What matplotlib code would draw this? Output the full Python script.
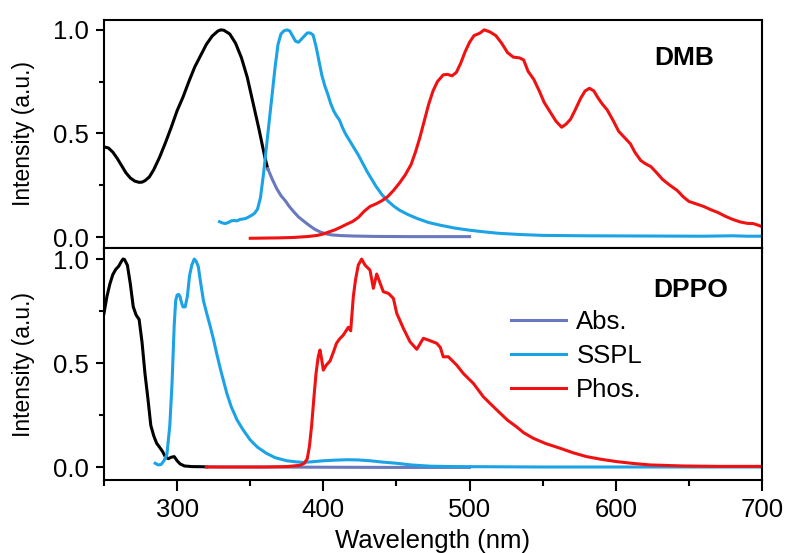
import numpy as np
import matplotlib
matplotlib.use('Agg')
import matplotlib.pyplot as plt
from matplotlib.ticker import MultipleLocator

plt.rcParams['font.family'] = ['Liberation Sans', 'DejaVu Sans']

# ---- DMB (top panel) ----
dmb_abs_wl = [250, 253, 256, 259, 262, 265, 268, 271, 274, 276, 278, 281, 284, 288,
              292, 296, 300, 304, 308, 312, 316, 320, 324, 328, 330, 332, 336, 340,
              344, 348, 352, 356, 360, 362, 365, 368, 371, 374, 377, 380, 383, 386,
              390, 394, 398, 402, 406, 412, 420, 435, 460, 500]
dmb_abs = [0.435, 0.43, 0.41, 0.38, 0.345, 0.31, 0.285, 0.27, 0.264, 0.265, 0.272,
           0.29, 0.325, 0.385, 0.455, 0.53, 0.61, 0.675, 0.75, 0.82, 0.875, 0.93,
           0.97, 0.995, 1.0, 0.998, 0.98, 0.935, 0.865, 0.77, 0.645, 0.52, 0.385,
           0.33, 0.28, 0.235, 0.2, 0.175, 0.145, 0.12, 0.097, 0.08, 0.058, 0.038,
           0.024, 0.015, 0.01, 0.007, 0.005, 0.003, 0.002, 0.002]
dmb_abs_split = 362  # black up to here, then legend colour

dmb_sspl_wl = [329, 331, 333, 335, 337, 339, 341, 343, 345, 347, 349, 351, 353, 355,
               357, 359, 361, 363, 365, 367, 369, 371, 373, 375, 377, 379, 381, 383,
               385, 387, 389, 391, 393, 395, 397, 399, 401, 403, 405, 407, 409, 411,
               413, 415, 418, 421, 424, 427, 430, 433, 436, 440, 444, 448, 452, 458,
               464, 472, 480, 490, 500, 510, 520, 535, 550, 580, 620, 660, 680, 690, 700]
dmb_sspl = [0.074, 0.068, 0.065, 0.07, 0.078, 0.08, 0.078, 0.085, 0.087, 0.09, 0.097,
            0.105, 0.115, 0.135, 0.19, 0.3, 0.43, 0.56, 0.69, 0.82, 0.93, 0.98, 0.995,
            1.0, 0.995, 0.97, 0.945, 0.94, 0.955, 0.97, 0.985, 0.985, 0.975, 0.92,
            0.85, 0.78, 0.73, 0.69, 0.645, 0.61, 0.585, 0.565, 0.53, 0.5, 0.465, 0.43,
            0.395, 0.355, 0.315, 0.28, 0.245, 0.205, 0.175, 0.15, 0.13, 0.108, 0.09,
            0.07, 0.057, 0.043, 0.033, 0.025, 0.018, 0.012, 0.008, 0.006, 0.005,
            0.004, 0.006, 0.004, 0.004]

dmb_phos_wl = [350, 360, 370, 380, 390, 396, 400, 404, 408, 412, 416, 420, 424, 428,
               432, 436, 440, 444, 448, 452, 456, 460, 463, 466, 469, 472, 475, 478,
               482, 485, 488, 491, 494, 497, 500, 503, 507, 510, 514, 518, 522, 526,
               530, 534, 537, 540, 544, 548, 551, 555, 559, 563, 566, 569, 572, 576,
               579, 582, 585, 588, 591, 594, 598, 602, 606, 610, 613, 617, 620, 624,
               628, 632, 637, 642, 646, 650, 655, 660, 665, 670, 675, 680, 685, 690,
               694, 697, 700]
dmb_phos = [-0.006, -0.005, -0.004, -0.002, 0.003, 0.008, 0.015, 0.025, 0.035, 0.048,
            0.062, 0.075, 0.095, 0.125, 0.148, 0.16, 0.175, 0.195, 0.225, 0.26, 0.3,
            0.35, 0.41, 0.48, 0.56, 0.64, 0.705, 0.75, 0.783, 0.785, 0.778, 0.795,
            0.84, 0.895, 0.94, 0.972, 0.984, 1.0, 0.99, 0.972, 0.935, 0.89, 0.868,
            0.865, 0.855, 0.8, 0.76, 0.7, 0.65, 0.605, 0.56, 0.53, 0.545, 0.568, 0.61,
            0.67, 0.705, 0.718, 0.705, 0.67, 0.64, 0.615, 0.565, 0.51, 0.48, 0.45,
            0.41, 0.37, 0.355, 0.34, 0.31, 0.278, 0.25, 0.225, 0.195, 0.172, 0.16,
            0.148, 0.132, 0.118, 0.1, 0.085, 0.073, 0.066, 0.065, 0.058, 0.05]

# ---- DPPO (bottom panel) ----
dppo_abs_wl = [250, 252, 254, 256, 258, 260, 262, 263, 264, 266, 268, 270, 272, 274,
               276, 278, 280, 282, 284, 286, 288, 290, 292, 294, 296, 298, 300, 302,
               305, 310, 320, 330, 360, 400, 450, 500]
dppo_abs = [0.74, 0.82, 0.88, 0.925, 0.95, 0.965, 0.99, 1.0, 0.998, 0.97, 0.88, 0.77,
            0.73, 0.71, 0.6, 0.45, 0.33, 0.2, 0.15, 0.114, 0.095, 0.075, 0.048, 0.04,
            0.047, 0.05, 0.03, 0.015, 0.005, 0.002, 0.001, 0.0, 0.0, -0.001, -0.002,
            -0.002]
dppo_abs_split = 320

dppo_sspl_wl = [285, 287, 289, 291, 293, 295, 296.5, 298, 299, 300, 301, 302, 303, 304,
                305.5, 307, 308.5, 310, 311.7, 313, 314.5, 316, 318, 320, 322.5, 325,
                327, 330, 334, 337, 341, 345, 350, 355, 361, 367, 375, 381, 386, 392,
                400, 408, 416, 424, 432, 440, 450, 460, 473, 490, 550, 620, 700]
dppo_sspl = [0.018, 0.01, 0.012, 0.03, 0.06, 0.2, 0.4, 0.68, 0.8, 0.827, 0.83, 0.82,
             0.79, 0.77, 0.77, 0.82, 0.92, 0.97, 1.0, 0.99, 0.963, 0.89, 0.8, 0.745,
             0.68, 0.61, 0.547, 0.46, 0.354, 0.29, 0.226, 0.18, 0.13, 0.095, 0.066,
             0.045, 0.03, 0.025, 0.022, 0.025, 0.03, 0.033, 0.035, 0.034, 0.03, 0.024,
             0.018, 0.01, 0.004, 0.002, 0.0, 0.0, 0.0]

dppo_phos_wl = [320, 340, 360, 375, 384, 387, 389, 390.5, 392, 393.5, 395, 396.5, 397.7,
                398.8, 400, 402, 404.6, 407, 409, 411, 413.7, 417.1, 418.7, 420.5, 422,
                423.9, 426.2, 428.5, 431.9, 434.2, 436.5, 441, 444.5, 447.9, 450.2,
                454.7, 459.3, 463.9, 468.4, 472, 477.5, 480, 482, 485.5, 491.2, 495.7,
                502.6, 509.4, 514, 520, 526, 532, 537, 543.6, 552, 562, 571, 580, 590,
                600.6, 612, 623.4, 646, 670, 700]
dppo_phos = [0.0, 0.0, 0.0, 0.002, 0.008, 0.018, 0.04, 0.1, 0.2, 0.33, 0.45, 0.53,
             0.5625, 0.52, 0.466, 0.49, 0.51, 0.555, 0.595, 0.615, 0.635, 0.672, 0.655,
             0.819, 0.9, 0.971, 1.0, 0.971, 0.947, 0.859, 0.928, 0.843, 0.835, 0.811,
             0.739, 0.667, 0.602, 0.566, 0.619, 0.61, 0.595, 0.575, 0.53, 0.53, 0.49,
             0.45, 0.402, 0.338, 0.306, 0.265, 0.225, 0.194, 0.165, 0.138, 0.113, 0.09,
             0.068, 0.05, 0.037, 0.026, 0.017, 0.01, 0.005, 0.003, 0.003]

c_abs = '#6a79bd'
c_sspl = '#1ba3e6'
c_phos = '#f01212'
lw = 2.2
fs_tick = 18.5
fs_ylab = 16.5


def draw_panel(ax, wl_abs, abs_, split, wl_s, sspl, wl_p, phos, name, name_xy):
  wl_abs = np.asarray(wl_abs)
  abs_ = np.asarray(abs_)
  first = wl_abs <= split
  rest = wl_abs >= split
  ax.plot(wl_abs[first], abs_[first], color='black', lw=lw)
  ax.plot(wl_abs[rest], abs_[rest], color=c_abs, lw=lw, label='Abs.')
  ax.plot(wl_s, sspl, color=c_sspl, lw=lw, label='SSPL')
  ax.plot(wl_p, phos, color=c_phos, lw=lw, label='Phos.')
  ax.set_xlim(250, 700)
  ax.yaxis.set_major_locator(MultipleLocator(0.5))
  ax.yaxis.set_minor_locator(MultipleLocator(0.25))
  ax.xaxis.set_major_locator(MultipleLocator(100))
  ax.xaxis.set_minor_locator(MultipleLocator(50))
  ax.tick_params(axis='y', which='major', direction='out', length=6, width=1.5,
                 labelsize=fs_tick, pad=5)
  ax.tick_params(axis='y', which='minor', direction='out', length=3.5, width=1.5)
  for sp in ax.spines.values():
    sp.set_linewidth(1.5)
  ax.set_ylabel('Intensity (a.u.)', fontsize=fs_ylab)
  ax.yaxis.set_label_coords(-0.105, 0.5)
  ax.text(name_xy[0], name_xy[1], name, transform=ax.transAxes, fontsize=19,
          fontweight='bold', ha='center', va='center')


fig = plt.figure(figsize=(7.88, 5.53), dpi=100)
ax1 = fig.add_axes([0.132, 0.5515, 0.835, 0.4125])
ax2 = fig.add_axes([0.132, 0.132, 0.835, 0.4195], sharex=ax1)

draw_panel(ax1, dmb_abs_wl, dmb_abs, dmb_abs_split, dmb_sspl_wl, dmb_sspl,
           dmb_phos_wl, dmb_phos, 'DMB', (0.882, 0.833))
draw_panel(ax2, dppo_abs_wl, dppo_abs, dppo_abs_split, dppo_sspl_wl, dppo_sspl,
           dppo_phos_wl, dppo_phos, 'DPPO', (0.892, 0.819))

ax1.set_ylim(-0.053, 1.048)
ax2.set_ylim(-0.0625, 1.053)

ax1.tick_params(axis='x', which='both', direction='out', length=4, width=1.5,
                labelbottom=False)
ax2.tick_params(axis='x', which='major', direction='out', length=8, width=1.5,
                labelsize=fs_tick, pad=5)
ax2.tick_params(axis='x', which='minor', direction='out', length=4.5, width=1.5)
ax2.set_xlabel('Wavelength (nm)', fontsize=18.5, labelpad=5)

ax2.legend(loc='center', bbox_to_anchor=(0.718, 0.534), frameon=False,
           fontsize=18.5, handlelength=2.15, handletextpad=0.4, labelspacing=0.38)

fig.savefig('out.png', dpi=100)
